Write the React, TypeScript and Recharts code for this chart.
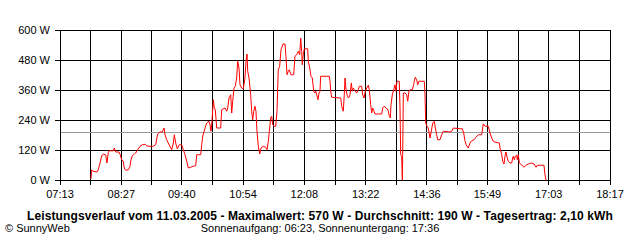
import { CartesianGrid, Line, LineChart, ReferenceLine, XAxis, YAxis } from "recharts"

// minutes of the day (e.g. 470.4 = 07:50)
const minutes = [
  470.4, 471.3, 472.8, 477.7, 479.2, 481.3, 483.3, 485.3, 488.2, 489.7, 491.3, 492.5, 497.3, 498.6, 500.2, 504.2,
  505.8, 507.5, 509.4, 510.6, 512.3, 515.5, 517.5, 518.7, 520.3, 522.7, 524.4, 526.8, 529.6, 532.4, 535.6, 537.7,
  540.4, 545.6, 548.5, 550.9, 553.7, 556.5, 558.6, 559.8, 561.8, 563.7, 567.9, 569.8, 571.0, 572.7, 574.6, 577.0,
  579.9, 581.9, 583.9, 586.0, 587.9, 590.8, 593.9, 596.8, 598.0, 602.9, 604.1, 605.3, 608.1, 610.1, 612.9, 614.1,
  615.3, 616.5, 618.1, 619.3, 620.5, 622.2, 627.0, 628.2, 632.2, 634.3, 635.5, 637.0, 639.1, 640.3, 641.5, 643.1,
  644.6, 646.3, 647.5, 649.1, 650.3, 652.4, 654.3, 656.3, 657.6, 658.8, 659.6, 661.2, 663.2, 664.4, 665.6, 666.9,
  668.4, 669.6, 670.8, 672.4, 674.1, 675.7, 678.4, 681.3, 682.9, 684.5, 685.7, 687.4, 688.6, 689.8, 691.7, 693.4,
  695.0, 696.5, 698.2, 699.8, 702.2, 704.6, 705.8, 707.1, 708.6, 709.8, 711.9, 715.1, 716.7, 718.8, 720.7, 722.4,
  723.6, 724.8, 725.5, 726.7, 727.9, 732.0, 732.8, 734.5, 736.0, 737.6, 739.3, 740.9, 741.7, 742.9, 744.5, 745.7,
  746.9, 747.7, 758.1, 759.0, 759.8, 761.0, 771.9, 773.1, 774.3, 775.0, 776.2, 777.1, 778.3, 779.9, 781.5, 783.1,
  784.7, 785.9, 787.1, 788.3, 789.5, 791.2, 793.1, 794.3, 797.2, 798.4, 800.0, 801.6, 803.3, 805.2, 806.4, 808.1,
  809.3, 810.5, 812.1, 813.3, 821.4, 822.6, 824.2, 826.6, 829.0, 830.6, 831.8, 832.6, 834.2, 835.9, 837.4, 838.6,
  839.9, 842.6, 843.5, 844.3, 845.5, 846.3, 846.7, 847.5, 849.5, 851.6, 852.8, 854.3, 855.5, 858.3, 860.0, 860.7,
  861.9, 863.6, 864.8, 866.4, 872.8, 873.7, 874.5, 876.1, 877.6, 879.7, 880.9, 883.0, 884.9, 886.1, 887.8, 889.0,
  891.8, 893.8, 895.8, 903.8, 905.9, 907.8, 915.9, 918.7, 920.4, 921.6, 923.2, 925.9, 928.0, 930.0, 932.8, 935.2,
  938.0, 942.1, 943.3, 944.0, 946.1, 950.1, 952.1, 954.2, 956.1, 958.2, 963.4, 964.2, 966.3, 967.5, 969.0, 970.2,
  971.4, 973.0, 974.2, 976.3, 978.3, 979.5, 980.3, 981.5, 982.7, 984.4, 985.1, 986.3, 987.5, 990.4, 993.2, 995.6,
  998.4, 1002.5, 1005.3, 1007.7, 1009.2, 1017.3, 1018.5, 1019.7,
]

const watts = [
  5, 41, 35, 32, 41, 68, 96, 104, 100, 68, 110, 117, 117, 128, 112, 112,
  100, 81, 75, 48, 39, 41, 55, 81, 97, 104, 108, 121, 135, 141, 143, 137,
  135, 135, 141, 184, 192, 192, 208, 181, 161, 148, 121, 148, 181, 148, 125, 141,
  141, 121, 101, 75, 48, 51, 55, 57, 101, 101, 141, 175, 208, 228, 235, 221,
  195, 235, 321, 288, 281, 208, 208, 281, 288, 275, 288, 328, 341, 268, 315, 368,
  375, 408, 475, 448, 381, 368, 365, 408, 475, 504, 435, 408, 341, 275, 241, 275,
  295, 275, 195, 135, 104, 128, 135, 131, 121, 155, 195, 248, 255, 221, 215, 215,
  275, 441, 455, 521, 544, 544, 495, 421, 435, 441, 421, 421, 495, 501, 515, 501,
  568, 515, 461, 501, 525, 525, 475, 448, 415, 408, 355, 348, 355, 341, 321, 348,
  355, 415, 415, 395, 355, 331, 328, 295, 281, 275, 341, 408, 361, 335, 328, 341,
  388, 355, 368, 361, 355, 348, 361, 375, 375, 341, 328, 355, 368, 379, 361, 301,
  268, 288, 275, 264, 264, 288, 295, 288, 281, 255, 248, 301, 341, 361, 381, 355,
  395, 395, 288, 101, 95, 0, 101, 348, 348, 341, 315, 355, 361, 361, 381, 395,
  411, 401, 381, 395, 395, 341, 228, 215, 208, 168, 188, 228, 235, 208, 181, 161,
  161, 181, 195, 192, 195, 208, 205, 205, 188, 161, 141, 128, 148, 157, 161, 171,
  181, 181, 208, 225, 215, 215, 188, 168, 155, 152, 148, 128, 101, 75, 64, 95,
  112, 88, 75, 68, 68, 88, 95, 81, 95, 99, 81, 101, 68, 61, 51, 59,
  64, 68, 64, 51, 59, 59, 21, 0,
]

const tickLabels = ["07:13", "08:27", "09:40", "10:54", "12:08", "13:22", "14:36", "15:49", "17:03", "18:17"]
const yTicks = [0, 120, 240, 360, 480, 600]
const average = 190

const toMin = (s: string) => Number(s.slice(0, 2)) * 60 + Number(s.slice(3))
const labelMins = tickLabels.map(toMin)
const xTicks: number[] = []
labelMins.forEach((m, i) => {
  xTicks.push(m)
  if (i < labelMins.length - 1) xTicks.push((m + labelMins[i + 1]) / 2)
})

const data = minutes.map((t, i) => ({ t, w: watts[i] }))

const font = "'Liberation Sans', Arial, sans-serif"

export default function App() {
  return (
    <div style={{ position: "absolute", left: 0, top: 0, width: 640, height: 240, background: "#fff", fontFamily: font }}>
      <LineChart width={640} height={240} data={data} margin={{ top: 30, right: 30, left: 0, bottom: 0 }}>
        <CartesianGrid stroke="#000" strokeWidth={1} shapeRendering="crispEdges" />
        <XAxis
          type="number"
          dataKey="t"
          domain={[labelMins[0], labelMins[labelMins.length - 1]]}
          ticks={xTicks}
          interval={0}
          height={60}
          tickSize={5}
          tickMargin={5}
          axisLine={{ stroke: "#000", shapeRendering: "crispEdges" }}
          tickLine={{ stroke: "#000", shapeRendering: "crispEdges" }}
          tick={{ fill: "#000", fontSize: 11, fontFamily: font }}
          tickFormatter={(v) => {
            const i = labelMins.indexOf(v)
            return i >= 0 ? tickLabels[i] : ""
          }}
        />
        <YAxis
          domain={[0, 600]}
          ticks={yTicks}
          width={60}
          tickSize={5}
          tickMargin={5}
          axisLine={{ stroke: "#000", shapeRendering: "crispEdges" }}
          tickLine={{ stroke: "#000", shapeRendering: "crispEdges" }}
          tick={{ fill: "#000", fontSize: 11, fontFamily: font }}
          tickFormatter={(v) => `${v} W`}
        />
        <ReferenceLine y={average} stroke="#999" strokeWidth={1} shapeRendering="crispEdges" />
        <Line type="linear" dataKey="w" stroke="#ff0000" strokeWidth={1} dot={false} isAnimationActive={false} />
      </LineChart>
      <div
        style={{
          position: "absolute",
          left: 0,
          top: 209,
          width: 640,
          textAlign: "center",
          fontWeight: "bold",
          fontSize: 12,
          letterSpacing: 0.1,
          whiteSpace: "nowrap",
        }}
      >
        Leistungsverlauf vom 11.03.2005 - Maximalwert: 570 W - Durchschnitt: 190 W - Tagesertrag: 2,10 kWh
      </div>
      <div style={{ position: "absolute", left: 5, top: 222, fontSize: 11 }}>© SunnyWeb</div>
      <div style={{ position: "absolute", left: 0, top: 222, width: 640, textAlign: "center", fontSize: 11 }}>
        Sonnenaufgang: 06:23, Sonnenuntergang: 17:36
      </div>
    </div>
  )
}
